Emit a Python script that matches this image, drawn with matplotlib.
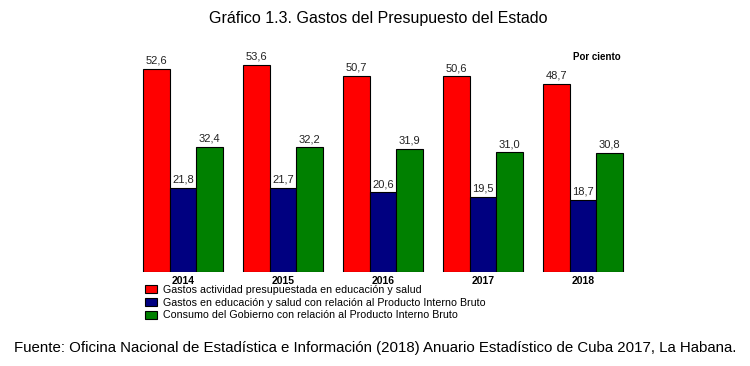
import numpy as np
import matplotlib
matplotlib.use("Agg")
import matplotlib.pyplot as plt
from matplotlib.patches import Patch

plt.rcParams['font.family'] = ['Liberation Sans', 'DejaVu Sans']

years = ['2014', '2015', '2016', '2017', '2018']
gastos_edu_salud = [52.6, 53.6, 50.7, 50.6, 48.7]
gastos_pib = [21.8, 21.7, 20.6, 19.5, 18.7]
consumo_gob = [32.4, 32.2, 31.9, 31.0, 30.8]
series_names = [
    'Gastos actividad presupuestada en educación y salud',
    'Gastos en educación y salud con relación al Producto Interno Bruto',
    'Consumo del Gobierno con relación al Producto Interno Bruto',
]
colors = ['#ff0000', '#000080', '#008000']

fig = plt.figure(figsize=(7.5, 3.66), dpi=100)
ax = fig.add_axes([133 / 750, 94 / 366, 500 / 750, 232 / 366])

x = np.arange(len(years))
w = 0.268
for k, vals in enumerate([gastos_edu_salud, gastos_pib, consumo_gob]):
    pos = x + (k - 1) * w
    ax.bar(pos, vals, width=w, color=colors[k], edgecolor='black', linewidth=0.8)
    for p, v in zip(pos, vals):
        ax.text(p, v + 0.8, f'{v:.1f}'.replace('.', ','), ha='center', va='bottom',
                fontsize=8, color='#222222')

ax.set_xlim(-0.5, 4.5)
ax.set_ylim(0, 60)
ax.set_xticks(x)
ax.set_xticklabels(years, fontsize=7.5, fontweight='bold')
ax.tick_params(length=0, pad=3)
ax.set_yticks([])
for s in ax.spines.values():
    s.set_visible(False)

fig.text(0.504, 0.95, 'Gráfico 1.3. Gastos del Presupuesto del Estado', ha='center', va='center',
         fontsize=11.5)
fig.text(597 / 750, 1 - 57 / 366, 'Por ciento', ha='center', va='center', fontsize=7,
         fontweight='bold')

handles = [Patch(facecolor=c, edgecolor='black', linewidth=0.8) for c in colors]
fig.legend(handles, series_names, loc='upper left', bbox_to_anchor=(145 / 750, 1 - 285 / 366),
           frameon=False, fontsize=7.7, handlelength=1.1, handleheight=0.8,
           handletextpad=0.6, labelspacing=0.25, borderpad=0, borderaxespad=0)

fig.text(0.5, 1 - 348 / 366,
         'Fuente: Oficina Nacional de Estadística e Información (2018) Anuario Estadístico de Cuba 2017, La Habana.',
         ha='center', va='center', fontsize=10.8)

fig.savefig('out.png', dpi=100)
